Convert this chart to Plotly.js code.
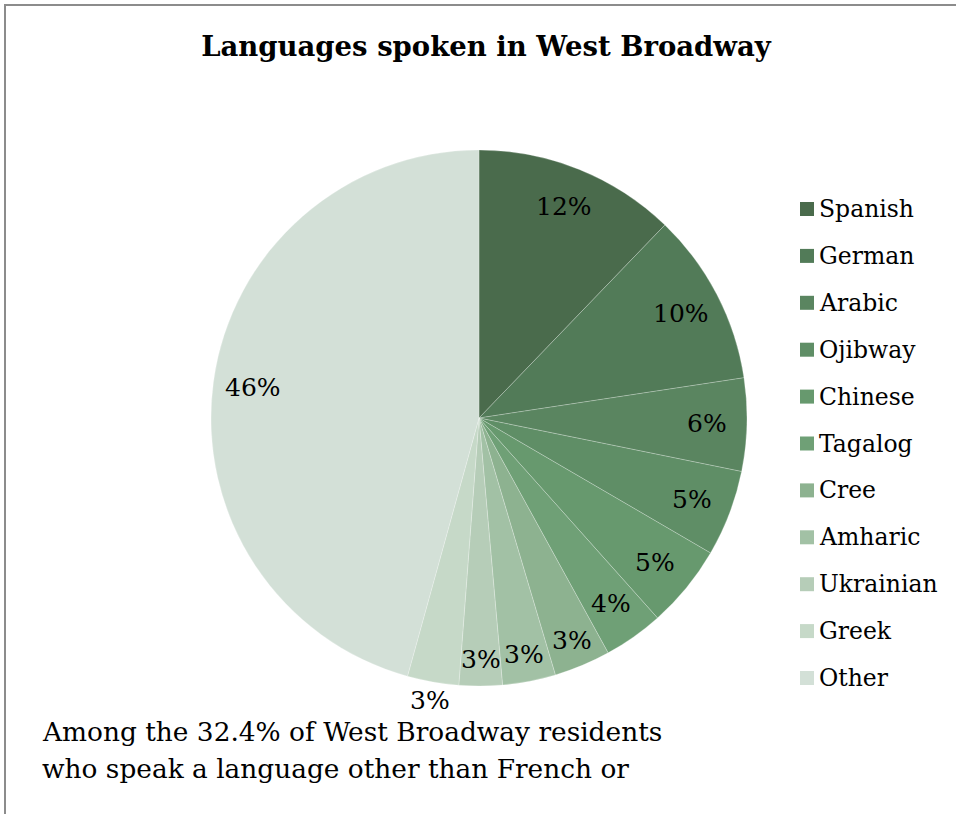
<!DOCTYPE html>
<html>
<head>
<meta charset="utf-8">
<script src="https://cdn.plot.ly/plotly-3.0.1.min.js"></script>
<style>html,body{margin:0;padding:0;background:#fff;}#chart{width:956px;height:814px;}</style>
</head>
<body>
<div id="chart"></div>
<script>
// ---- data ----
var languages = ["Spanish","German","Arabic","Ojibway","Chinese","Tagalog","Cree","Amharic","Ukrainian","Greek","Other"];
var shares = [12.2, 10.4, 5.6, 5.2, 5.0, 3.6, 3.4, 3.2, 2.6, 3.1, 45.7];
var sliceColors = ["#4a6b4c","#527b58","#5a8560","#5f8e66","#67996e","#6fa076","#8db290","#a2c1a5","#b6cdb8","#c6d9c8","#d3e0d7"];
var labelPlacement = ["in","in","in","in","in","in","in","in","in","out","in"];
var chartTitle = "Languages spoken in West Broadway";
var noteLines = ["Among the 32.4% of West Broadway residents", "who speak a language other than French or"];

// ---- geometry (page pixels) ----
var W = 956, H = 814;
var cx = 479, cy = 418, R = 268;
var serif = "DejaVu Serif, Liberation Serif, serif";

function px2x(px){ return px / W; }
function py2y(py){ return 1 - py / H; }

var total = shares.reduce(function(a,b){return a+b;},0);
var annotations = [];
var shapes = [];

// percent labels computed from data
var cum = 0;
shares.forEach(function(v, i){
  var mid = (cum + v/2) / total * 2 * Math.PI;
  cum += v;
  var rf = labelPlacement[i] === "out" ? 1.07 : (v < 3.5 ? 0.9 : 0.85);
  var x = cx + R * rf * Math.sin(mid);
  var y = cy - R * rf * Math.cos(mid);
  annotations.push({
    xref:"paper", yref:"paper", x:px2x(x), y:py2y(y),
    xanchor:"center", yanchor:"middle", showarrow:false,
    text: Math.round(v/total*100) + "%",
    font:{family:serif, size:25, color:"#000"}
  });
});

// legend (manual, to match row spacing)
var legTop = 209, legStep = 46.9;
languages.forEach(function(name, i){
  var yc = legTop + i*legStep;
  shapes.push({type:"rect", xref:"paper", yref:"paper",
    x0:px2x(800), x1:px2x(814), y0:py2y(yc-7), y1:py2y(yc+7),
    fillcolor:sliceColors[i], line:{width:0}});
  annotations.push({xref:"paper", yref:"paper", x:px2x(817), y:py2y(yc),
    xanchor:"left", yanchor:"middle", showarrow:false, text:name,
    font:{family:serif, size:23.5, color:"#000"}});
});

// note text
noteLines.forEach(function(t, i){
  annotations.push({xref:"paper", yref:"paper", x:px2x(40), y:py2y(731 + i*37),
    xanchor:"left", yanchor:"middle", showarrow:false, text:t, align:"left",
    font:{family:serif, size:26.4, color:"#000"}});
});

// frame (top and left edges visible)
shapes.push({type:"rect", xref:"paper", yref:"paper",
  x0:px2x(5), x1:1.2, y0:-0.2, y1:py2y(5),
  line:{color:"#8c8c8c", width:2}, fillcolor:"rgba(0,0,0,0)"});

var trace = {
  type:"pie",
  labels: languages,
  values: shares,
  sort:false,
  direction:"clockwise",
  rotation:0,
  textinfo:"none",
  hoverinfo:"label+percent",
  marker:{colors:sliceColors, line:{color:"rgba(255,255,255,0.4)", width:0.6}},
  domain:{x:[px2x(cx-R), px2x(cx+R)], y:[py2y(cy+R), py2y(cy-R)]},
  showlegend:false
};

var layout = {
  width:W, height:H,
  margin:{l:0,r:0,t:0,b:0},
  paper_bgcolor:"#fff",
  title:{text:"<b>"+chartTitle+"</b>", x:px2x(486), xanchor:"center",
         y:py2y(46), yanchor:"middle", yref:"paper",
         font:{family:serif, size:27.5, color:"#000"}},
  showlegend:false,
  annotations:annotations,
  shapes:shapes
};

Plotly.newPlot("chart", [trace], layout, {displayModeBar:false, staticPlot:true});
</script>
</body>
</html>
